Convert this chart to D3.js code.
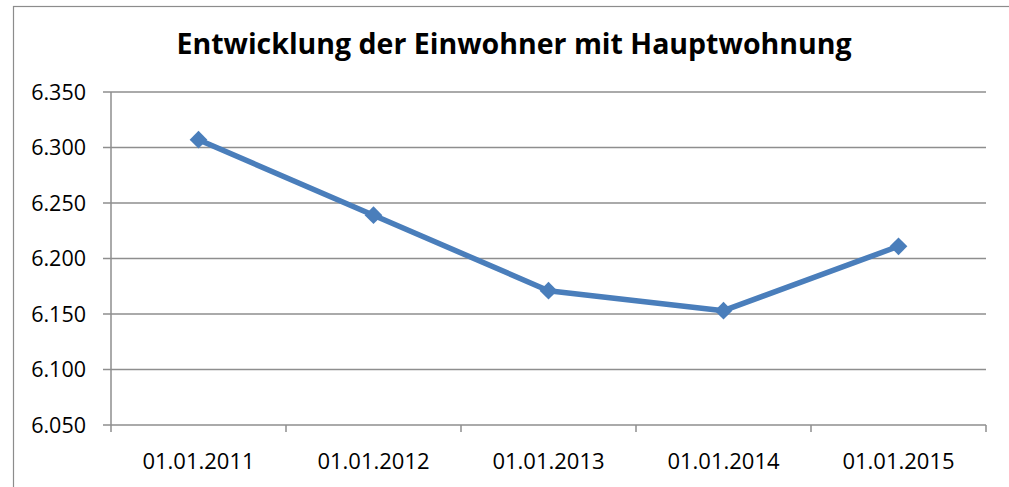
<!DOCTYPE html>
<html><head><meta charset="utf-8">
<script src="https://cdn.jsdelivr.net/npm/d3@7/dist/d3.min.js"></script>
<style>body{margin:0;background:#fff;}svg{display:block;}</style>
</head><body>
<svg id="c" width="1009" height="487"></svg>
<script>
const categories = ["01.01.2011","01.01.2012","01.01.2013","01.01.2014","01.01.2015"];
const values = [6307, 6239, 6171, 6153, 6211];
const yTicks = [6050, 6100, 6150, 6200, 6250, 6300, 6350];
const title = "Entwicklung der Einwohner mit Hauptwohnung";

const svg = d3.select("#c");
const fontFam = "'Open Sans', 'Liberation Sans', sans-serif";
const m = {left:111, right:986, top:92, bottom:425};

svg.append("rect").attr("x",13.5).attr("y",6.5).attr("width",1100).attr("height",600)
  .attr("fill","#fff").attr("stroke","#8c8c8c").attr("stroke-width",1.2);

const x = d3.scaleBand().domain(categories).range([m.left, m.right]);
const y = d3.scaleLinear().domain([6050, 6350]).range([m.bottom, m.top]);

// gridlines
svg.append("g").selectAll("line").data(yTicks).join("line")
  .attr("x1", m.left-8).attr("x2", m.right)
  .attr("y1", d=>y(d)).attr("y2", d=>y(d))
  .attr("stroke","#8e8e8e").attr("stroke-width",1.5);

// y axis line
svg.append("line").attr("x1",m.left).attr("x2",m.left).attr("y1",m.top).attr("y2",m.bottom)
  .attr("stroke","#8e8e8e").attr("stroke-width",1.5);

const fmt = d => d3.format(".3f")(d/1000);
svg.append("g").selectAll("text").data(yTicks).join("text")
  .attr("x", 86).attr("y", d=>y(d)).attr("dy","0.36em")
  .attr("text-anchor","end").attr("font-family",fontFam).attr("font-size",21.5)
  .attr("fill","#000").text(fmt);

// x axis ticks
const bounds = categories.map(c=>x(c)).concat([x(categories[categories.length-1])+x.bandwidth()]);
svg.append("g").selectAll("line").data(bounds).join("line")
  .attr("x1",d=>d).attr("x2",d=>d).attr("y1",m.bottom).attr("y2",m.bottom+7)
  .attr("stroke","#8e8e8e").attr("stroke-width",1.5);

svg.append("g").selectAll("text").data(categories).join("text")
  .attr("x", d=>x(d)+x.bandwidth()/2).attr("y", 469)
  .attr("text-anchor","middle").attr("font-family",fontFam).attr("font-size",22)
  .attr("fill","#000").text(d=>d);

// title
svg.append("text").attr("x",514).attr("y",54).attr("text-anchor","middle")
  .attr("font-family",fontFam).attr("font-weight","bold").attr("font-size",28.5)
  .attr("fill","#000").text(title);

// line
const line = d3.line().x((d,i)=>x(categories[i])+x.bandwidth()/2).y(d=>y(d));
svg.append("path").datum(values).attr("d",line).attr("fill","none")
  .attr("stroke","#4a7ebb").attr("stroke-width",5.5).attr("stroke-linejoin","round");

svg.append("g").selectAll("path").data(values).join("path")
  .attr("transform",(d,i)=>`translate(${x(categories[i])+x.bandwidth()/2},${y(d)})`)
  .attr("d", d3.symbol().type(d3.symbolDiamond2).size(200))
  .attr("fill","#4a7ebb");
</script>
</body></html>
